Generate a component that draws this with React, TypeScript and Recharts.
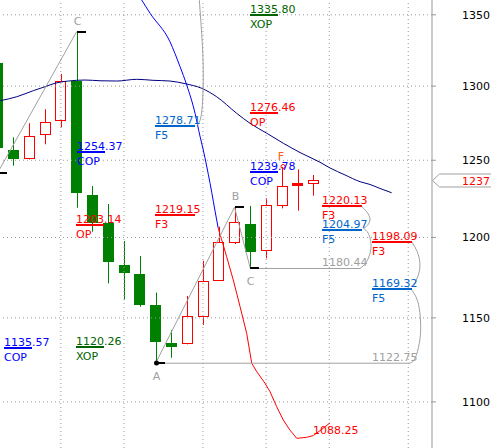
import React from 'react';
import { ComposedChart, Bar, Line, Scatter, XAxis, YAxis, ReferenceLine, ReferenceDot } from 'recharts';

const FONT = '"DejaVu Sans", Verdana, sans-serif';
const BULL = '#ff0000';
const BEAR = '#008000';
const GRAY = '#a0a0a0';

// ---- candles (index 0 is the partially visible one at the left edge)
const opens = [1315.8, 1256.8, 1251.3, 1267.3, 1276.9, 1303.7, 1227.2, 1209.0, 1182.6, 1177.0, 1157.9, 1135.0, 1134.6, 1151.3, 1173.3, 1197.3, 1208.5, 1192.0, 1220.8, 1234.1, 1234.8];
const highs = [1321.6, 1265.3, 1274.7, 1284.2, 1308.4, 1338.0, 1233.1, 1221.4, 1197.7, 1188.3, 1165.5, 1142.6, 1163.4, 1185.3, 1206.8, 1219.3, 1220.2, 1225.1, 1245.6, 1244.0, 1240.3];
const lows = [1241.8, 1246.4, 1250.5, 1260.6, 1272.0, 1219.0, 1203.6, 1171.2, 1161.3, 1156.8, 1122.75, 1126.0, 1134.0, 1145.7, 1172.6, 1195.8, 1180.44, 1186.8, 1218.6, 1217.1, 1226.8];
const closes = [1257.9, 1250.6, 1266.1, 1275.4, 1303.7, 1228.3, 1209.0, 1184.3, 1177.4, 1157.9, 1135.6, 1132.6, 1151.1, 1172.6, 1197.3, 1209.6, 1191.0, 1220.8, 1233.1, 1234.7, 1236.7];

// ---- axes
const yTicks = [1100, 1150, 1200, 1250, 1300, 1350];
const gridX = [4, 8, 13, 17, 21, 26];
const X_DOMAIN: [number, number] = [0.146, 27.506];
const Y_DOMAIN: [number, number] = [1073.5, 1360.6];

// ---- pivots (zigzag points)
const pivotIdx = [0, 5, 10, 15, 16, 18];
const pivotNames = ['', 'C', 'A', 'B', 'C', 'F'];
const pivotIsHigh = [false, true, false, true, false, true];

// ---- curves [x index, price]
const maPoints: [number, number][] = [
  [0.15, 1290.0], [1.2, 1292.7], [2.26, 1296.9], [3.0, 1299.6], [3.63, 1302.0], [4.47, 1303.5],
  [5.53, 1304.2], [6.48, 1303.7], [7.54, 1303.5], [8.8, 1304.7], [9.84, 1304.0], [10.91, 1303.5],
  [11.86, 1301.7], [12.92, 1298.5], [13.87, 1292.7], [15.14, 1281.4], [15.98, 1274.7], [17.04, 1268.0],
  [18.09, 1261.3], [19.15, 1255.1], [20.41, 1248.7], [21.05, 1244.9], [22.0, 1240.3], [22.95, 1235.9],
  [23.58, 1234.1], [24.21, 1231.5], [24.95, 1228.7],
];
const bluePoints: [number, number][] = [
  [8.89, 1364.9], [9.12, 1360.6], [9.65, 1351.1], [10.91, 1330.9], [11.55, 1313.4], [11.97, 1300.8],
  [12.5, 1281.4], [12.81, 1266.1], [13.02, 1256.8], [13.45, 1234.8], [13.87, 1211.1], [13.97, 1205.8],
];
const redPoints: [number, number][] = [
  [13.97, 1205.8], [14.19, 1198.4], [14.5, 1187.8], [14.92, 1173.3], [15.35, 1156.8], [15.77, 1140.6],
  [16.09, 1122.7], [16.41, 1117.7], [16.93, 1110.9], [17.25, 1105.9], [17.67, 1097.2], [18.09, 1089.5],
  [18.51, 1083.7], [18.94, 1079.0], [19.57, 1079.6], [19.99, 1080.6], [20.52, 1084.1], [21.05, 1087.9],
];
const levelAEnd = 26.11;
const levelCEnd = 22.95;
const arcAPoints: [number, number][] = [
  [26.11, 1122.75], [26.43, 1125.6], [26.7, 1134.6], [26.79, 1144.6], [26.7, 1155.8], [26.49, 1162.9], [26.22, 1167.1],
];
const arc1198Points: [number, number][] = [
  [26.22, 1197.3], [26.57, 1191.0], [26.74, 1183.7], [26.64, 1176.4], [26.32, 1169.1],
];
const arcCPoints: [number, number][] = [
  [22.95, 1180.44], [23.33, 1184.1], [23.58, 1190.0], [23.64, 1196.3], [23.47, 1202.6], [23.16, 1205.7],
];
const arc1220Points: [number, number][] = [
  [23.05, 1219.7], [23.37, 1216.4], [23.58, 1211.1], [23.33, 1206.8], [23.16, 1205.7],
];
const topArcPoints: [number, number][] = [
  [12.77, 1360.5], [12.86, 1346.3], [12.98, 1325.1], [13.02, 1306.5], [12.98, 1290.5], [12.86, 1278.3], [12.62, 1273.2],
];

// ---- price labels
const labelValues = ['1335.80', '1276.46', '1278.71', '1254.37', '1239.78', '1220.13', '1204.97', '1219.15', '1203.14', '1198.09', '1169.32', '1180.44', '1122.75', '1135.57', '1120.26', '1088.25'];
const labelTags = ['XOP', 'OP', 'F5', 'COP', 'COP', 'F3', 'F5', 'F3', 'OP', 'F3', 'F5', '', '', 'COP', 'XOP', ''];
const labelKinds = ['pat', 'pat', 'pat', 'pat', 'pat', 'pat', 'pat', 'pat', 'pat', 'pat', 'pat', 'lvl', 'lvl', 'pat', 'pat', 'end'];
const labelX = [16, 16, 9.96, 5.0, 16, 20.52, 20.52, 9.96, 4.96, 23.69, 23.69, 20.52, 23.69, 0.4, 4.96, 19.99];
const labelY = [1349.6, 1281.6, 1273.0, 1255.6, 1242.4, 1220.4, 1204.8, 1214.6, 1207.7, 1197.3, 1167.7, 1180.44, 1122.75, 1132.0, 1132.7, 1080.3];

const TAG_COLORS: Record<string, string> = { XOP: '#006400', OP: '#ff0000', F3: '#ff0000', F5: '#0066cc', COP: '#0000ff' };

// ---- derived tables
const candles = opens.map((o, i) => ({
  x: i,
  wick: [lows[i], highs[i]],
  body: [Math.min(o, closes[i]), Math.max(o, closes[i])],
  bull: closes[i] >= o,
}));
const toXY = (pts: [number, number][]) => pts.map(([x, y]) => ({ x, y }));
const pivots = pivotIdx.map((i, k) => ({ x: i, y: pivotIsHigh[k] ? highs[i] : lows[i], name: pivotNames[k], high: pivotIsHigh[k] }));
const zigOne = [pivots[0], pivots[1]].map((p) => ({ x: p.x, y: p.y }));
const zigTwo = [pivots[2], pivots[3], pivots[4]].map((p) => ({ x: p.x, y: p.y }));
const levelA = [{ x: pivots[2].x, y: pivots[2].y }, { x: levelAEnd, y: pivots[2].y }];
const levelC = [{ x: pivots[4].x, y: pivots[4].y }, { x: levelCEnd, y: pivots[4].y }];
const labels = labelValues.map((v, i) => ({ x: labelX[i], y: labelY[i], value: v, tag: labelTags[i], kind: labelKinds[i] }));
const lastClose = closes[closes.length - 1];

function WickShape(props: any) {
  const { x, y, width, height, payload } = props;
  if (x == null || y == null || isNaN(y)) return null;
  const cx = Math.round(x + width / 2) + 0.5;
  return <line x1={cx} x2={cx} y1={y} y2={y + height} stroke={payload.bull ? BULL : BEAR} strokeWidth={1} />;
}

function BodyShape(props: any) {
  const { x, y, width, height, payload } = props;
  if (x == null || y == null || isNaN(y)) return null;
  const cx = Math.round(x + width / 2);
  const top = Math.round(y);
  const h = Math.round(y + height) - top;
  if (payload.bull) {
    if (h <= 1) return <rect x={cx - 5} y={top - 1} width={11} height={3} fill={BULL} />;
    return <rect x={cx - 4.5} y={top + 0.5} width={10} height={h} fill="#ffffff" stroke={BULL} strokeWidth={1} />;
  }
  return <rect x={cx - 5} y={top} width={11} height={Math.max(h, 1)} fill={BEAR} />;
}

function PivotShape(props: any) {
  const { cx, cy, payload } = props;
  if (cx == null || cy == null) return null;
  const x0 = Math.round(cx);
  const y0 = Math.round(cy);
  if (payload.name === 'F') {
    return (
      <g>
        <circle cx={x0 + 1} cy={y0 - 0.5} r={2} fill="none" stroke={BULL} strokeWidth={1} />
        <text x={x0 - 1} y={y0 - 7} textAnchor="middle" fontSize={11} fontFamily={FONT} fill="#ff5a1e">F</text>
      </g>
    );
  }
  return (
    <g>
      <rect x={x0} y={y0 - 1} width={9} height={2} fill="#000000" />
      {payload.name === 'A' && <circle cx={x0 + 0.5} cy={y0} r={2.5} fill="#000000" />}
      {payload.name && (
        <text x={x0 + 0.5} y={payload.high ? y0 - 7 : y0 + 16.5} textAnchor="middle" fontSize={11} fontFamily={FONT} fill={GRAY}>{payload.name}</text>
      )}
    </g>
  );
}

function LabelShape(props: any) {
  const { cx, cy, payload } = props;
  if (cx == null || cy == null) return null;
  const x0 = Math.round(cx);
  const y0 = Math.round(cy);
  const color = payload.kind === 'lvl' ? GRAY : payload.kind === 'end' ? '#ff0000' : TAG_COLORS[payload.tag];
  const len = payload.tag && payload.tag[0] === 'F' ? 40 : 28;
  return (
    <g>
      <text x={x0} y={y0 - 2} fontSize={11} fontFamily={FONT} fill={color}>{payload.value}</text>
      {payload.kind === 'pat' && <rect x={x0} y={y0 - 1} width={len} height={2} fill={color} />}
      {payload.tag && <text x={x0} y={y0 + 12.5} fontSize={11} fontFamily={FONT} fill={color}>{payload.tag}</text>}
    </g>
  );
}

function PriceTag(props: any) {
  const { cx, cy } = props;
  if (cx == null || cy == null) return null;
  const x0 = Math.round(cx) + 0.5;
  const y0 = Math.round(cy) + 0.5;
  return (
    <g>
      <polygon points={`${x0},${y0} ${x0 + 7},${y0 - 6.5} ${493},${y0 - 6.5} ${493},${y0 + 6.5} ${x0 + 7},${y0 + 6.5}`} fill="#ffffff" stroke={GRAY} strokeWidth={1} />
      <text x={490} y={y0 + 4} textAnchor="end" fontSize={11} fontFamily={FONT} fill="#ff0000">{Math.round(lastClose)}</text>
    </g>
  );
}

function AxisTick(props: any) {
  const { y, payload } = props;
  return (
    <text x={490} y={y + 4} textAnchor="end" fontSize={11} fontFamily={FONT} fill="#000000">{payload.value}</text>
  );
}

export default function App() {
  const gray = { stroke: GRAY, strokeWidth: 1, dot: false, isAnimationActive: false, activeDot: false } as any;
  return (
    <div style={{ position: 'absolute', left: 0, top: 0, width: 491, height: 448, background: '#ffffff', fontFamily: FONT }}>
      <ComposedChart width={491} height={448} data={candles} margin={{ top: 0, right: 0, bottom: 0, left: 0 }}>
        <XAxis xAxisId={0} dataKey="x" type="number" domain={X_DOMAIN} allowDataOverflow hide />
        <XAxis xAxisId={1} dataKey="x" type="number" domain={X_DOMAIN} allowDataOverflow hide />
        <YAxis
          orientation="right"
          width={59}
          scale="log"
          domain={Y_DOMAIN}
          allowDataOverflow
          ticks={yTicks}
          interval={0}
          tickSize={4}
          tick={AxisTick}
          axisLine={{ stroke: '#999999' }}
          tickLine={{ stroke: '#999999' }}
        />
        {yTicks.map((t) => (
          <ReferenceLine key={'h' + t} y={t} stroke="#999999" strokeDasharray="1 3" />
        ))}
        {gridX.map((g) => (
          <ReferenceLine key={'v' + g} x={g} stroke="#999999" strokeDasharray="1 3" />
        ))}
        <Bar xAxisId={0} dataKey="wick" barSize={11} shape={WickShape} isAnimationActive={false} />
        <Bar xAxisId={1} dataKey="body" barSize={11} shape={BodyShape} isAnimationActive={false} />
        <Line data={toXY(maPoints)} dataKey="y" type="monotone" stroke="#000080" strokeWidth={1} dot={false} activeDot={false} isAnimationActive={false} />
        <Line data={toXY(bluePoints)} dataKey="y" type="monotone" stroke="#0000ff" strokeWidth={1} dot={false} activeDot={false} isAnimationActive={false} />
        <Line data={toXY(redPoints)} dataKey="y" type="linear" stroke="#ff0000" strokeWidth={1} dot={false} activeDot={false} isAnimationActive={false} />
        <Line data={zigOne} dataKey="y" type="linear" {...gray} />
        <Line data={zigTwo} dataKey="y" type="linear" {...gray} />
        <Line data={levelA} dataKey="y" type="linear" {...gray} />
        <Line data={levelC} dataKey="y" type="linear" {...gray} />
        <Line data={toXY(arcAPoints)} dataKey="y" type="natural" {...gray} />
        <Line data={toXY(arc1198Points)} dataKey="y" type="natural" {...gray} />
        <Line data={toXY(arcCPoints)} dataKey="y" type="natural" {...gray} />
        <Line data={toXY(arc1220Points)} dataKey="y" type="natural" {...gray} />
        <Line data={toXY(topArcPoints)} dataKey="y" type="natural" {...gray} />
        <Scatter data={pivots} dataKey="y" shape={PivotShape} isAnimationActive={false} />
        <Scatter data={labels} dataKey="y" shape={LabelShape} isAnimationActive={false} />
        <ReferenceDot x={X_DOMAIN[1]} y={lastClose} ifOverflow="visible" shape={PriceTag} />
      </ComposedChart>
    </div>
  );
}
